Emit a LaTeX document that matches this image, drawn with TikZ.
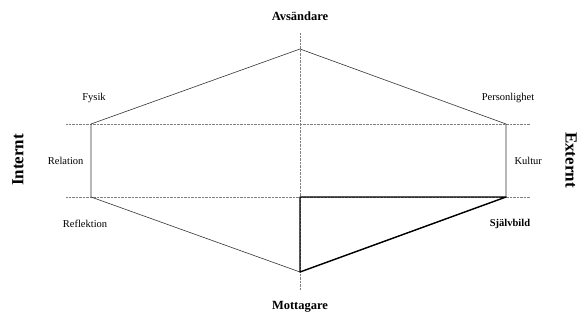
\documentclass[tikz,border=0pt]{standalone}
\usepackage{fontspec}
\setmainfont{Liberation Serif}
\usepackage{tikz}
\usetikzlibrary{positioning}

\begin{document}
\begin{tikzpicture}[x=1pt,y=-1pt,
  pole/.style={font=\fontsize{12.5}{14}\selectfont\bfseries},
  side/.style={font=\fontsize{17}{19}\selectfont\bfseries},
  aspect/.style={font=\fontsize{10.5}{12}\selectfont},
  guide/.style={gray,densely dotted,line width=0.4pt},
  edge/.style={black!80,line width=0.6pt},
  self/.style={black,line width=1.4pt,line join=round},]
\useasboundingbox (0,0) rectangle (581,320);
% corners of the prism
\coordinate (top) at (300,49);
\coordinate (ul) at (91,124);
\coordinate (ur) at (506,124);
\coordinate (ll) at (91,197);
\coordinate (lr) at (506,197);
\coordinate (bot) at (300,272);
\coordinate (axt) at (300,33);
\coordinate (axb) at (300,290);
\coordinate (gl1) at (66,124);
\coordinate (gr1) at (530,124);
\coordinate (gl2) at (66,197);
\coordinate (gr2) at (530,197);
\coordinate (mid) at (300,197);

% guide lines
\draw[guide] (axt) -- (axb);
\draw[guide] (gl1) -- (gr1);
\draw[guide] (gl2) -- (gr2);

% outline
\draw[edge] (top) -- (ur) -- (lr) -- (bot) -- (ll) -- (ul) -- cycle;
\draw[self] (mid) -- (lr) -- (bot) -- cycle;

% texts
\node[pole] (sender) at (300,16) {Avsändare};
\node[pole] (receiver) at (300,307) {Mottagare};
\node[side,rotate=90] (intern) at (18,160) {Internt};
\node[side,rotate=-90,inner sep=1pt] (extern) at (571,160) {Externt};
\node[aspect] (fysik) at (94,98) {Fysik};
\node[aspect] (person) at (508,98) {Personlighet};
\node[aspect,anchor=east] (relation) at (87,161) {Relation};
\node[aspect,anchor=west] (kultur) at (511,161) {Kultur};
\node[aspect] (reflex) at (85,224) {Reflektion};
\node[aspect,font=\fontsize{10.5}{12}\selectfont\bfseries] (bild) at (510,224) {Självbild};
\end{tikzpicture}
\end{document}
